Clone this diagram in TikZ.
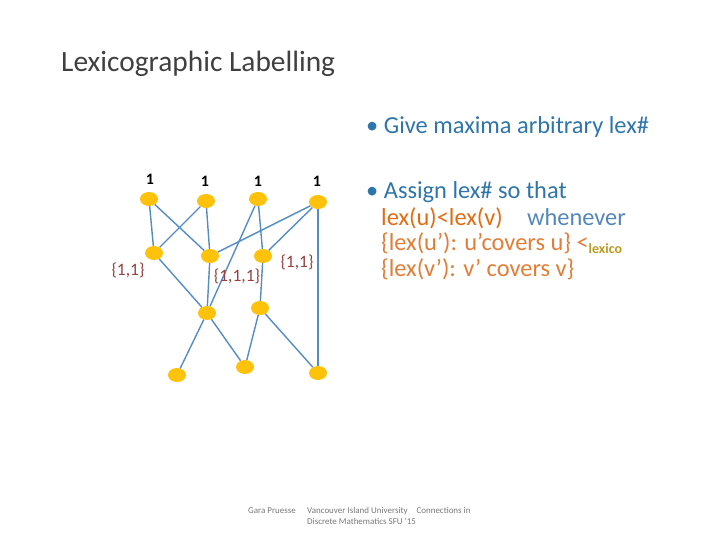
\documentclass[tikz,border=0pt]{standalone}
\usepackage{fontspec}
\setmainfont{Carlito}
\usetikzlibrary{shapes.geometric}
\definecolor{titlegray}{RGB}{64,64,64}
\definecolor{bulletblue}{RGB}{46,117,170}
\definecolor{lightblue}{RGB}{84,135,185}
\definecolor{lexorange}{RGB}{226,108,20}
\definecolor{braceorange}{RGB}{226,125,55}
\definecolor{lexolive}{RGB}{185,155,30}
\definecolor{setred}{RGB}{150,65,65}
\definecolor{edgeblue}{RGB}{85,140,195}
\definecolor{dotgold}{RGB}{255,194,10}
\definecolor{footgray}{RGB}{120,120,120}

\begin{document}
\begin{tikzpicture}[x=1bp,y=-1bp,
    vtx/.style={ellipse,fill=dotgold,minimum width=18bp,minimum height=14bp,inner sep=0pt},
    edge/.style={draw=edgeblue,line width=1.4bp},
    lbl/.style={font=\fontsize{16}{19}\selectfont\bfseries},
    setlbl/.style={text=setred,font=\fontsize{17.5}{20}\selectfont},
    txt/.style={anchor=base west,inner sep=0pt,font=\fontsize{24.5}{28}\selectfont},
    foot/.style={anchor=base west,inner sep=0pt,text=footgray,font=\fontsize{9}{10}\selectfont}]
  \useasboundingbox (0,0) rectangle (720,540);
  % title
  \node[anchor=base west,inner sep=0pt,text=titlegray,font=\fontsize{29.5}{34}\selectfont] (title) at (61,72) {Lexicographic Labelling};
  % poset
  \node[vtx] (t1) at (149,199) {};
  \node[vtx] (t2) at (206,201) {};
  \node[vtx] (t3) at (258,199) {};
  \node[vtx] (t4) at (318,202) {};
  \node[vtx] (m1) at (154,253) {};
  \node[vtx] (m2) at (210,256) {};
  \node[vtx] (m3) at (263,256) {};
  \node[vtx] (r1) at (207,313) {};
  \node[vtx] (r2) at (260,308) {};
  \node[vtx] (b1) at (177,375) {};
  \node[vtx] (b2) at (245,367) {};
  \node[vtx] (b3) at (318,373) {};
  \draw[edge] (t1) -- (m1) ;
  \draw[edge] (t1) -- (m2) ;
  \draw[edge] (t2) -- (m1) ;
  \draw[edge] (t2) -- (m2) ;
  \draw[edge] (t3) -- (r1) ;
  \draw[edge] (t3) -- (m3) ;
  \draw[edge] (t4) -- (m2) ;
  \draw[edge] (t4) -- (m3) ;
  \draw[edge] (t4) -- (b3) ;
  \draw[edge] (m1) -- (r1) ;
  \draw[edge] (m2) -- (r1) ;
  \draw[edge] (m3) -- (r2) ;
  \draw[edge] (r1) -- (b1) ;
  \draw[edge] (r1) -- (b2) ;
  \draw[edge] (r2) -- (b2) ;
  \draw[edge] (r2) -- (b3) ;
  \node[lbl] (n1) at (150,179) {1};
  \node[lbl] (n2) at (205,181) {1};
  \node[lbl] (n3) at (258,181) {1};
  \node[lbl] (n4) at (317,181) {1};
  \node[setlbl] (s1) at (128,270) {\{1,1\}};
  \node[setlbl] (s2) at (237,276) {\{1,1,1\}};
  \node[setlbl] (s3) at (297,262) {\{1,1\}};
  % bullets
  \node[txt,text=bulletblue] (g) at (366,134) {\textbullet\ Give maxima arbitrary lex\#};
  \node[txt,text=bulletblue] (a) at (366,199) {\textbullet\ Assign lex\# so that};
  \node[txt] (l2) at (381,226) {\textcolor{lexorange}{lex(u)<lex(v)}\quad\textcolor{lightblue}{whenever}};
  \node[txt,text=braceorange] (l3) at (381,251) {\{lex(u’): u’covers u\} <\textcolor{lexolive}{\raisebox{-3bp}{\fontsize{14}{16}\selectfont\bfseries lexico}}};
  \node[txt,text=braceorange] (l4) at (381,277) {\{lex(v’): v’ covers v\}};
  % footer
  \node[foot] (f1) at (248,513) {Gara Pruesse};
  \node[foot] (f2) at (307,513) {Vancouver Island University\quad Connections in};
  \node[foot] (f3) at (307,524) {Discrete Mathematics SFU ’15};
\end{tikzpicture}
\end{document}
